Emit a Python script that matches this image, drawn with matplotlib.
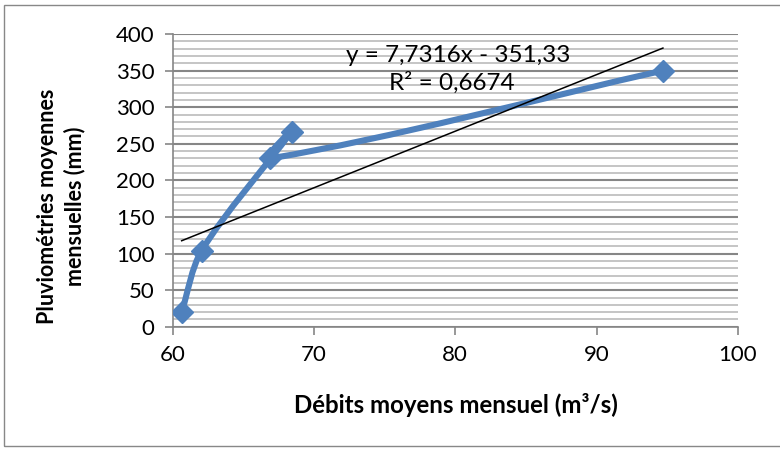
import numpy as np
import matplotlib
matplotlib.use("Agg")
import matplotlib.pyplot as plt
from matplotlib.patches import Rectangle
from matplotlib.path import Path
from matplotlib.patches import PathPatch

plt.rcParams['font.family'] = ['Lato', 'DejaVu Sans']

# Data (in drawing order of the series)
debits = [60.65, 62.06, 68.42, 66.9, 94.69]
pluvio = [20, 104, 266.5, 230, 350]
trend_slope = 7.7316
trend_intercept = -351.33
eq_label = "y = 7,7316x - 351,33"
r2_label = "R² = 0,6674"
xticks = [60, 70, 80, 90, 100]
yticks = [0, 50, 100, 150, 200, 250, 300, 350, 400]

blue = "#4F81BD"
grid_major = "#868686"
grid_minor = "#C0C0C0"

W, H = 780, 450
fig = plt.figure(figsize=(W / 100, H / 100), dpi=100)
fig.patch.set_facecolor("white")

# outer chart border
fig.add_artist(Rectangle((4 / W, 1 - 446 / H), (W + 10) / W, (446 - 5) / H,
                         transform=fig.transFigure, fill=False,
                         edgecolor="#888888", lw=1.0))

ax = fig.add_axes([172.5 / W, 1 - 326.8 / H, (738 - 172.5) / W, (326.8 - 34) / H])
ax.set_xlim(60, 100)
ax.set_ylim(0, 400)
ax.set_xticks(xticks)
ax.set_yticks(yticks)
ax.set_yticks(np.arange(0, 401, 10), minor=True)
ax.tick_params(axis='y', which='minor', length=0)
ax.tick_params(axis='both', which='major', length=6, width=1.2, color=grid_major,
               labelsize=16, labelcolor="black")
ax.tick_params(axis='x', pad=7)
ax.tick_params(axis='y', pad=7)
ax.grid(axis='y', which='minor', color=grid_minor, lw=1.3)
ax.grid(axis='y', which='major', color=grid_major, lw=1.5)
ax.set_axisbelow(True)
for s in ['top', 'right']:
    ax.spines[s].set_visible(False)
for s in ['left', 'bottom']:
    ax.spines[s].set_color(grid_major)
    ax.spines[s].set_linewidth(1.2)

# smoothed series line computed in display space
pts = ax.transData.transform(np.column_stack([debits, pluvio]))
n = len(pts)
k = 0.3
verts = [pts[0]]
codes = [Path.MOVETO]
def tangent(i):
    if i == 0:
        d = pts[1] - pts[0]
    elif i == n - 1:
        d = pts[-1] - pts[-2]
    else:
        d = pts[i + 1] - pts[i - 1]
    return d / np.linalg.norm(d)
for i in range(n - 1):
    seg = np.linalg.norm(pts[i + 1] - pts[i])
    c1 = pts[i] + tangent(i) * k * seg
    c2 = pts[i + 1] - tangent(i + 1) * k * seg
    verts += [c1, c2, pts[i + 1]]
    codes += [Path.CURVE4] * 3
path = Path(ax.transData.inverted().transform(np.array(verts)), codes)
ax.add_patch(PathPatch(path, fill=False, edgecolor=blue, lw=4.4,
                       capstyle='round', joinstyle='round', zorder=3))
ax.plot(debits, pluvio, linestyle='none', marker='D', markersize=11,
        color=blue, zorder=4)

# linear trendline
xt = np.array([min(debits), max(debits)])
ax.plot(xt, trend_slope * xt + trend_intercept, color="black", lw=1.1, zorder=5)

fig.text(458 / W, 1 - 55 / H, eq_label, ha='center', va='center', fontsize=17.5)
fig.text(452 / W, 1 - 83 / H, r2_label, ha='center', va='center', fontsize=17.5)

fig.text(456 / W, 1 - 405 / H, "Débits moyens mensuel (m³/s)", ha='center',
         va='center', fontsize=17.3, fontweight='bold')
fig.text(61 / W, 1 - 206 / H, "Pluviométries moyennes\nmensuelles (mm)", ha='center',
         va='center', fontsize=15.5, fontweight='bold', rotation=90,
         linespacing=1.35)

fig.savefig("out.png", dpi=100)
